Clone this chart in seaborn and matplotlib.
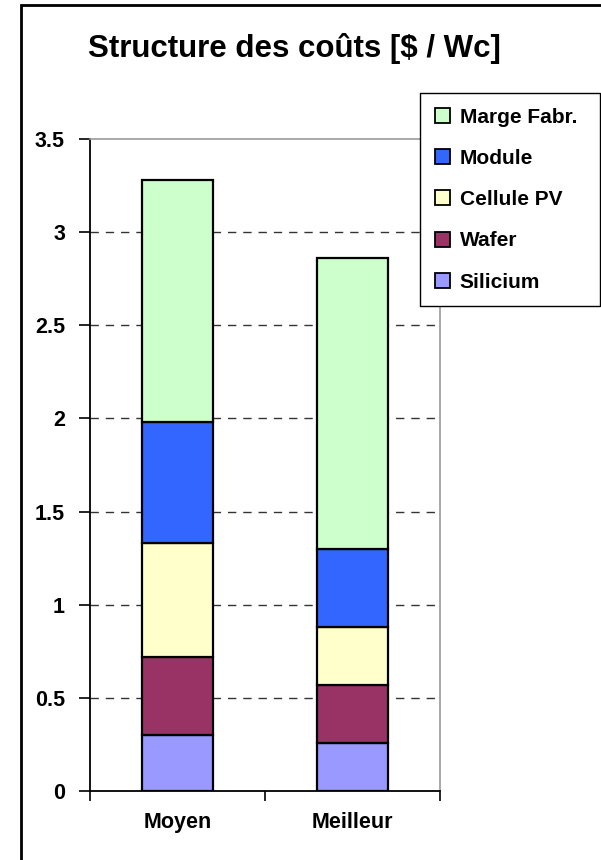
import matplotlib
matplotlib.use("Agg")
import matplotlib.pyplot as plt
import matplotlib.patches as mpatches
import seaborn as sns
import numpy as np
import pandas as pd

categories = ["Moyen", "Meilleur"]
series = ["Silicium", "Wafer", "Cellule PV", "Module", "Marge Fabr."]
silicium = [0.30, 0.26]
wafer = [0.42, 0.31]
cellule = [0.61, 0.31]
module = [0.65, 0.42]
marge = [1.30, 1.56]
colors = ["#9999FF", "#993366", "#FFFFCC", "#3366FF", "#CCFFCC"]
yticks = [0, 0.5, 1, 1.5, 2, 2.5, 3, 3.5]
ytick_labels = ["0", "0.5", "1", "1.5", "2", "2.5", "3", "3.5"]

sns.set_style("white")
plt.rcParams["font.family"] = ["Liberation Sans", "DejaVu Sans"]
plt.rcParams["font.weight"] = "bold"
plt.rcParams["text.color"] = "black"
plt.rcParams["xtick.color"] = "black"
plt.rcParams["ytick.color"] = "black"

W, H = 601, 860
fig = plt.figure(figsize=(W / 100, H / 100), dpi=100)
ax = fig.add_axes([90 / W, 1 - 791 / H, 350 / W, 652 / H])

values = [silicium, wafer, cellule, module, marge]
bottom = np.zeros(len(categories))
handles = []
for name, vals, col in zip(series, values, colors):
    df = pd.DataFrame({"cat": categories, "val": vals})
    sns.barplot(data=df, x="cat", y="val", bottom=bottom, color=col,
                width=0.41, edgecolor="black", linewidth=1.6, ax=ax,
                saturation=1, zorder=3)
    bottom = bottom + np.array(vals)
    handles.append(mpatches.Patch(facecolor=col, edgecolor="black", linewidth=1.3, label=name))

ax.set_ylim(0, 3.5)
ax.set_xlim(-0.5, 1.5)
ax.set_yticks(yticks)
ax.set_yticklabels(ytick_labels, fontsize=15.5, fontweight="bold", color="black")
ax.set_xlabel("")
ax.set_ylabel("")
for lab in ax.get_xticklabels():
    lab.set_fontsize(15.5)
    lab.set_fontweight("bold")
    lab.set_color("black")
for y in yticks[1:-1]:
    ax.axhline(y, color="#333333", linestyle=(0, (6, 5)), linewidth=1.0, zorder=1)

for s in ["top", "right"]:
    ax.spines[s].set_color("#999999")
    ax.spines[s].set_linewidth(1.2)
for s in ["left", "bottom"]:
    ax.spines[s].set_color("black")
    ax.spines[s].set_linewidth(1.3)
    ax.spines[s].set_visible(True)

ax.tick_params(axis="y", direction="out", length=8, width=1.2, color="black", pad=10, left=True)
ax.tick_params(axis="x", which="major", bottom=True, length=0, pad=15)
ax.set_xticks([-0.5, 0.5, 1.5], minor=True)
ax.tick_params(axis="x", which="minor", bottom=True, direction="out", length=7, width=1.2, color="black")

fig.text(294 / W, 1 - 48 / H, "Structure des coûts [$ / Wc]", ha="center", va="center",
         fontsize=22.5, fontweight="bold", color="black")

leg = fig.legend(handles=handles[::-1], loc="upper left",
                 bbox_to_anchor=(420 / W, 1 - 305 / H, 180 / W, 212 / H), mode="expand",
                 prop={"weight": "bold", "size": 15},
                 frameon=True, fancybox=False, edgecolor="black",
                 handlelength=0.75, handleheight=0.72, handletextpad=0.45,
                 labelspacing=1.07, borderpad=0.7, borderaxespad=0)
leg.get_frame().set_linewidth(1.0)
leg.get_frame().set_facecolor("white")
leg.get_frame().set_alpha(1)
for t in leg.get_texts():
    t.set_color("black")

frame = mpatches.Rectangle((21 / W, -0.01), 1.0, 1 - 5 / H + 0.01, transform=fig.transFigure,
                           fill=False, edgecolor="black", linewidth=2.0)
fig.patches.append(frame)

fig.savefig("out.png", dpi=100)
